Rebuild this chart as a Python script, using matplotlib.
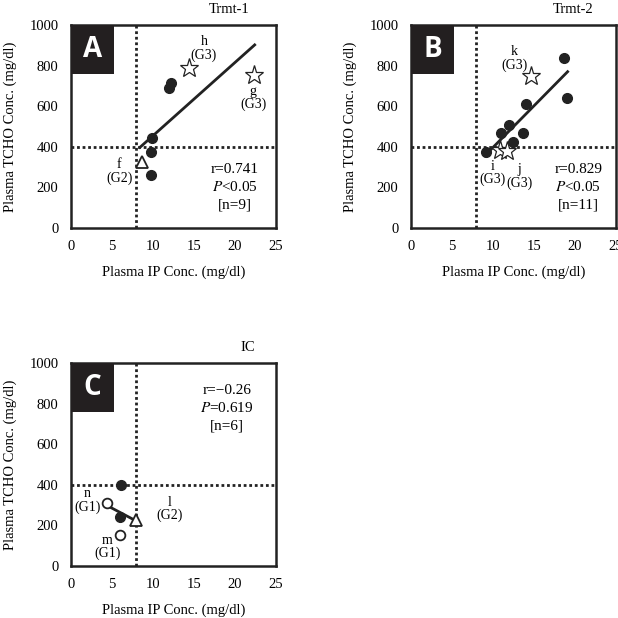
import matplotlib
matplotlib.use("Agg")
import matplotlib.pyplot as plt
from matplotlib.patches import Rectangle

plt.rcParams['font.family'] = ['Liberation Serif', 'DejaVu Serif']
plt.rcParams['mathtext.fontset'] = 'stix'

# ---- Panel A (Trmt-1) ----
a_circ_x = [11.9, 12.2, 9.9, 9.7, 9.8]
a_circ_y = [689, 713, 441, 374, 259]
a_tri_x = [8.7]
a_tri_y = [323]
a_star_x = [14.4, 22.3]
a_star_y = [787, 754]
a_line_x = [8.4, 22.4]
a_line_y = [397, 902]
a_labels = ["h\n(G3)", "g\n(G3)", "f\n(G2)"]
a_label_x = [16.2, 22.2, 5.9]
a_label_y = [885, 640, 279]
a_stats = ["r=0.741", r"$\it{P}$<0.05", "[n=9]"]

# ---- Panel B (Trmt-2) ----
b_circ_x = [9.1, 11.0, 12.0, 12.4, 13.7, 14.0, 18.7, 19.0]
b_circ_y = [372, 470, 508, 423, 470, 613, 836, 638]
b_star_x = [10.9, 11.7, 14.6]
b_star_y = [384, 377, 749]
b_line_x = [9.0, 19.1]
b_line_y = [356, 770]
b_labels = ["k\n(G3)", "i\n(G3)", "j\n(G3)"]
b_label_x = [12.6, 10.0, 13.2]
b_label_y = [836, 270, 254]
b_stats = ["r=0.829", r"$\it{P}$<0.05", "[n=11]"]

# ---- Panel C (IC) ----
c_circ_x = [6.1, 6.0]
c_circ_y = [397, 241]
c_open_x = [4.4, 6.0]
c_open_y = [310, 151]
c_tri_x = [7.9]
c_tri_y = [228]
c_line_x = [4.2, 7.9]
c_line_y = [302, 223]
c_labels = ["n\n(G1)", "m\n(G1)", "l\n(G2)"]
c_label_x = [2.0, 4.4, 12.0]
c_label_y = [323, 94, 282]
c_stats = ["r=−0.26", r"$\it{P}$=0.619", "[n=6]"]

x_ticks = [0, 5, 10, 15, 20, 25]
y_ticks = [0, 200, 400, 600, 800, 1000]
ref_x = 7.9
ref_y = 397

W = 618.0
fig = plt.figure(figsize=(6.18, 6.18), dpi=100)

def make_ax(left, top):
    ax = fig.add_axes([left / W, (W - top - 203) / W, 205 / W, 203 / W])
    ax.set_xlim(0, 25)
    ax.set_ylim(0, 1000)
    ax.set_xticks(x_ticks)
    ax.set_yticks(y_ticks)
    ax.tick_params(length=0, labelsize=10.5, pad=9)
    for s in ax.spines.values():
        s.set_linewidth(1.8)
        s.set_color('#222222')
    ax.set_xlabel("Plasma IP Conc. (mg/dl)", fontsize=10.5, labelpad=9)
    ax.set_ylabel("Plasma TCHO Conc. (mg/dl)", fontsize=10.5, labelpad=9)
    ax.axvline(ref_x, color='#222222', ls=(0, (1, 1)), lw=2, zorder=1)
    ax.axhline(ref_y, color='#222222', ls=(0, (1, 1)), lw=2, zorder=1)
    return ax

def letter_box(ax, letter):
    ax.add_patch(Rectangle((0, 0.76), 0.21, 0.24, transform=ax.transAxes,
                           facecolor='#231f20', edgecolor='none', zorder=5))
    ax.text(0.105, 0.88, letter, transform=ax.transAxes, color='white',
            fontsize=20, fontweight='bold', family='Open Sans',
            ha='center', va='center', zorder=6)

def labels(ax, txts, xs, ys):
    for t, x, y in zip(txts, xs, ys):
        ax.text(x, y, t, ha='center', va='center', fontsize=10, linespacing=1.0)

def stats(ax, lines, x, ys):
    for t, y in zip(lines, ys):
        ax.text(x, y, t, ha='center', va='center', fontsize=11)

dark = '#222222'

# Panel A
ax = make_ax(71, 25)
ax.plot(a_line_x, a_line_y, color=dark, lw=2, zorder=2)
ax.plot(a_circ_x, a_circ_y, 'o', color=dark, ms=7, zorder=3)
ax.plot(a_tri_x, a_tri_y, '^', mfc='white', mec=dark, mew=1.3, ms=8, zorder=3)
ax.plot(a_star_x, a_star_y, '*', mfc='white', mec=dark, mew=0.9, ms=14, zorder=3)
labels(ax, a_labels, a_label_x, a_label_y)
stats(ax, a_stats, 20.0, [287, 200, 111])
ax.set_title("Trmt-1", fontsize=10.5, x=0.77, y=1.02)
letter_box(ax, "A")

# Panel B
ax = make_ax(411, 25)
ax.plot(b_line_x, b_line_y, color=dark, lw=2, zorder=2)
ax.plot(b_circ_x, b_circ_y, 'o', color=dark, ms=7, zorder=3)
ax.plot(b_star_x, b_star_y, '*', mfc='white', mec=dark, mew=0.9, ms=14, zorder=4)
labels(ax, b_labels, b_label_x, b_label_y)
stats(ax, b_stats, 20.4, [287, 200, 111])
ax.set_title("Trmt-2", fontsize=10.5, x=0.79, y=1.02)
letter_box(ax, "B")

# Panel C
ax = make_ax(71, 363)
ax.plot(c_line_x, c_line_y, color=dark, lw=2, zorder=2)
ax.plot(c_circ_x, c_circ_y, 'o', color=dark, ms=7, zorder=3)
ax.plot(c_open_x, c_open_y, 'o', mfc='white', mec=dark, mew=1.3, ms=7, zorder=3)
ax.plot(c_tri_x, c_tri_y, '^', mfc='white', mec=dark, mew=1.3, ms=8, zorder=3)
labels(ax, c_labels, c_label_x, c_label_y)
stats(ax, c_stats, 19.0, [865, 778, 688])
ax.set_title("IC", fontsize=10.5, x=0.86, y=1.02)
letter_box(ax, "C")

fig.savefig("out.png", dpi=100)
